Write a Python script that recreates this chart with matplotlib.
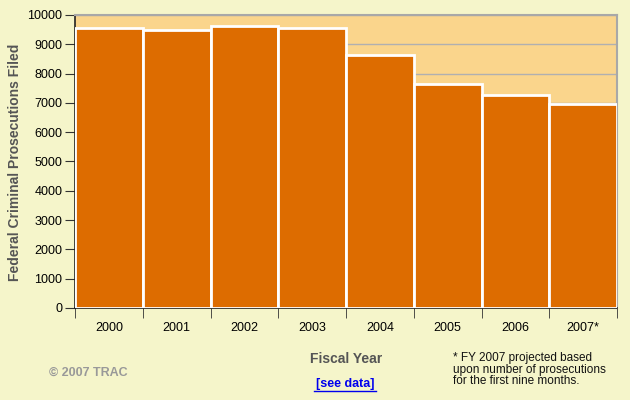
import matplotlib.pyplot as plt
import numpy as np

plt.rcParams["font.family"] = ["Liberation Sans", "DejaVu Sans"]

years = ["2000", "2001", "2002", "2003", "2004", "2005", "2006", "2007*"]
prosecutions = [9540, 9505, 9625, 9540, 8625, 7630, 7270, 6970]

bg = "#F5F5CA"
fig = plt.figure(figsize=(6.3, 4.0), dpi=100, facecolor=bg)
ax = fig.add_axes([75 / 630, 1 - 308 / 400, 542 / 630, 293 / 400])
ax.set_facecolor("#FAD58C")

x = np.arange(len(years))
ax.bar(x, prosecutions, width=1.0, color="#DD6C00", edgecolor="white", linewidth=2, zorder=3)

ax.set_xlim(-0.5, len(years) - 0.5)
ax.set_ylim(0, 10000)
ax.set_yticks(range(0, 10001, 1000))
ax.grid(axis="y", color="#B0B0B0", linewidth=1, zorder=1)

# year labels under the bars, ticks at the bar boundaries
ax.set_xticks(x)
ax.set_xticklabels(years, fontsize=9)
ax.tick_params(axis="x", which="major", length=0, pad=10)
ax.set_xticks(np.arange(-0.5, len(years)), minor=True)
ax.tick_params(axis="x", which="minor", length=7, color="#333333")
ax.tick_params(axis="y", length=7, color="#333333", labelsize=9, pad=2)

for s in ["top", "right"]:
    ax.spines[s].set_color("#A8A8A8")
    ax.spines[s].set_linewidth(1.5)
for s in ["left", "bottom"]:
    ax.spines[s].set_color("#222222")
    ax.spines[s].set_linewidth(1.2)

fig.text(15 / 630, 1 - 162 / 400, "Federal Criminal Prosecutions Filed", rotation=90,
         ha="center", va="center", fontsize=10, fontweight="bold", color="#555555")
fig.text(346 / 630, 1 - 359 / 400, "Fiscal Year", ha="center", va="center",
         fontsize=10, fontweight="bold", color="#555555")
fig.text(345 / 630, 1 - 384 / 400, "[see data]", ha="center", va="center",
         fontsize=9, fontweight="bold", color="#0000EE", url="#")
fig.add_artist(plt.Line2D([314 / 630, 376 / 630], [1 - 391 / 400] * 2, color="#0000EE", linewidth=1))
fig.text(49 / 630, 1 - 373 / 400, "© 2007 TRAC", ha="left", va="center",
         fontsize=9, fontweight="bold", color="#999999")
fig.text(453 / 630, 1 - 352 / 400,
         "* FY 2007 projected based\nupon number of prosecutions\nfor the first nine months.",
         ha="left", va="top", fontsize=8.5, color="#111111", linespacing=0.95)

fig.savefig("out.png", dpi=100, facecolor=bg)
